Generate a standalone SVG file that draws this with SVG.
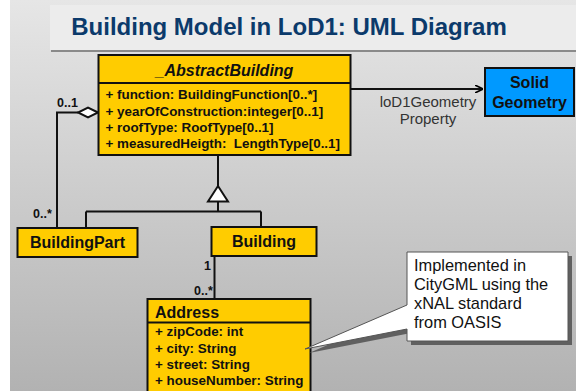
<svg xmlns="http://www.w3.org/2000/svg" width="576" height="391" viewBox="0 0 576 391">
<defs>
<linearGradient id="bg" x1="0" y1="0" x2="0" y2="1">
<stop offset="0" stop-color="#e6e6e6"/>
<stop offset="1" stop-color="#b2b2b2"/>
</linearGradient>
<marker id="arr" viewBox="0 0 10 10" refX="10" refY="5" markerWidth="8" markerHeight="8" markerUnits="userSpaceOnUse" orient="auto">
<path d="M0,0 L10,5 L0,10" fill="none" stroke="#000" stroke-width="2"/>
</marker>
<style>
.box{fill:#ffcc00;stroke:#111;stroke-width:2}
.blue{fill:#0099ff;stroke:#111;stroke-width:2}
.ln{fill:none;stroke:#111;stroke-width:2}
text{font-family:"Liberation Sans",Arial,sans-serif}
.hd{font-size:16px;font-weight:bold;fill:#111}
.at{font-size:13.4px;font-weight:bold;fill:#111}
.mul{font-size:12.5px;font-weight:bold;fill:#111}
.lbl{font-size:15px;fill:#333}
.note{font-size:16.4px;fill:#111}
</style>
</defs>
<rect x="0" y="0" width="576" height="391" fill="#fff"/>
<rect x="10" y="0" width="566" height="391" fill="url(#bg)"/>
<g id="title">
<rect x="51" y="7" width="525" height="45" fill="#8a8a8a"/>
<rect x="50" y="5" width="526" height="45" fill="#ececec"/>
<text x="289" y="35" text-anchor="middle" font-size="24" font-weight="bold" fill="#0b3a6b">Building Model in LoD1: UML Diagram</text>
</g>
<g id="connectors">
<path class="ln" d="M350,89 H483" marker-end="url(#arr)"/>
<path class="ln" d="M78,112.5 H57 V228"/>
<path d="M98,112.5 L88,107.5 L78,112.5 L88,117.5 Z" fill="#fff" stroke="#111" stroke-width="2"/>
<path class="ln" d="M218,155 V186"/>
<path class="ln" d="M218,201.5 V211.5 M86,211.5 H261 M86,211.5 V228 M261,211.5 V227"/>
<path d="M218,186 L228,201.5 L208,201.5 Z" fill="#fff" stroke="#111" stroke-width="2"/>
<path class="ln" d="M214.5,256 V299"/>
</g>
<g id="labels">
<text class="mul" x="57" y="107">0..1</text>
<text class="mul" x="33" y="218">0..*</text>
<text class="mul" x="204" y="270">1</text>
<text class="mul" x="194" y="295">0..*</text>
<text class="lbl" x="428" y="107" text-anchor="middle">loD1Geometry</text>
<text class="lbl" x="428" y="124" text-anchor="middle">Property</text>
</g>
<g id="AbstractBuilding">
<rect class="box" x="98.5" y="55" width="252" height="100"/>
<line class="ln" x1="98.5" y1="83" x2="350.5" y2="83"/>
<text class="hd" x="224.5" y="76" text-anchor="middle" font-style="italic" font-size="16.5">_AbstractBuilding</text>
<text class="at" x="105.5" y="99">+ function: BuildingFunction[0..*]</text>
<text class="at" x="105.5" y="115.5">+ yearOfConstruction:integer[0..1]</text>
<text class="at" x="105.5" y="132">+ roofType: RoofType[0..1]</text>
<text class="at" x="105.5" y="148" xml:space="preserve">+ measuredHeigth:  LengthType[0..1]</text>
</g>
<g id="SolidGeometry">
<rect class="blue" x="485" y="68" width="89" height="48"/>
<text class="hd" x="529.5" y="88" text-anchor="middle">Solid</text>
<text class="hd" x="529.5" y="108" text-anchor="middle">Geometry</text>
</g>
<g id="BuildingPart">
<rect class="box" x="17.5" y="228" width="120" height="29"/>
<text class="hd" x="77.5" y="248" text-anchor="middle">BuildingPart</text>
</g>
<g id="Building">
<rect class="box" x="211.5" y="227" width="105" height="29"/>
<text class="hd" x="264" y="247" text-anchor="middle">Building</text>
</g>
<g id="Address">
<rect class="box" x="147.5" y="299" width="163" height="100"/>
<line class="ln" x1="147.5" y1="322.5" x2="310.5" y2="322.5"/>
<text class="hd" x="155" y="318">Address</text>
<text class="at" x="155" y="336">+ zipCode: int</text>
<text class="at" x="155" y="353">+ city: String</text>
<text class="at" x="155" y="369">+ street: String</text>
<text class="at" x="155" y="385">+ houseNumber: String</text>
</g>
<g id="note">
<path d="M411,256 H572 V345 H411 V333 L309,353 L411,309 Z" fill="#606060"/>
<path d="M407,252 H568 V341 H407 V329 L305,349 L407,305 Z" fill="#fff" stroke="#555" stroke-width="1"/>
<text class="note" x="414" y="271">Implemented in</text>
<text class="note" x="414" y="290">CityGML using the</text>
<text class="note" x="414" y="309">xNAL standard</text>
<text class="note" x="414" y="328">from OASIS</text>
</g>
</svg>
